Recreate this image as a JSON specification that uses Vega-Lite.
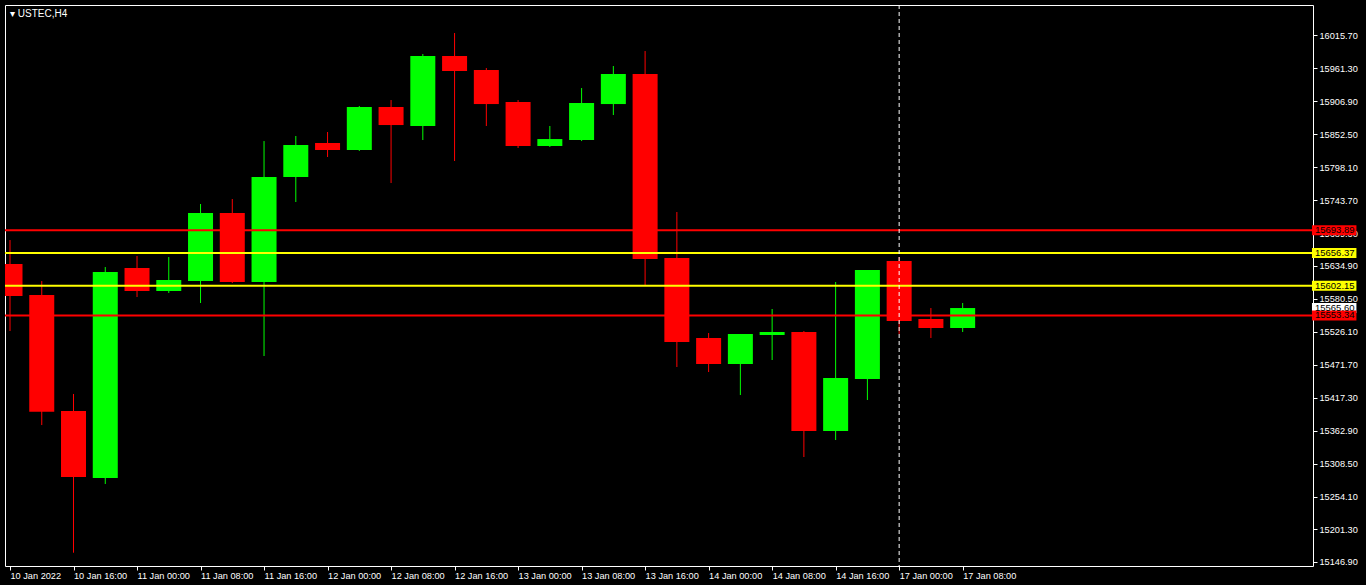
{
  "$schema": "https://vega.github.io/schema/vega-lite/v6.json",
  "width": 1308,
  "height": 561,
  "autosize": {"type": "none"},
  "padding": {"left": 5, "top": 5, "right": 53, "bottom": 19},
  "background": "#000000",
  "title": {
    "text": "▾  USTEC,H4",
    "anchor": "start",
    "frame": "group",
    "orient": "top",
    "offset": 0,
    "baseline": "top",
    "dy": 14,
    "dx": 5,
    "color": "#ffffff",
    "font": "Liberation Sans",
    "fontSize": 10,
    "fontWeight": "normal"
  },
  "config": {
    "view": {"stroke": "#ffffff", "strokeWidth": 1, "fill": "#000000"},
    "axis": {"grid": false, "domain": false, "labelOverlap": false, "labelFlush": false, "labelBound": false, "labelSeparation": 0}
  },
  "datasets": {
    "candles": [
      {"t": "10 Jan 08:00", "i": 0, "open": 15638.2, "high": 15677.7, "low": 15527.7, "close": 15585.4},
      {"t": "10 Jan 12:00", "i": 1, "open": 15587.1, "high": 15610.1, "low": 15372.7, "close": 15394.7},
      {"t": "10 Jan 16:00", "i": 2, "open": 15395.8, "high": 15423.9, "low": 15162.2, "close": 15287.0},
      {"t": "10 Jan 20:00", "i": 3, "open": 15285.4, "high": 15633.2, "low": 15275.5, "close": 15625.0},
      {"t": "11 Jan 00:00", "i": 4, "open": 15631.6, "high": 15651.4, "low": 15583.8, "close": 15593.7},
      {"t": "11 Jan 04:00", "i": 5, "open": 15593.7, "high": 15649.7, "low": 15590.4, "close": 15611.8},
      {"t": "11 Jan 08:00", "i": 6, "open": 15610.1, "high": 15737.1, "low": 15573.9, "close": 15722.3},
      {"t": "11 Jan 12:00", "i": 7, "open": 15722.3, "high": 15745.3, "low": 15606.9, "close": 15608.5},
      {"t": "11 Jan 16:00", "i": 8, "open": 15608.5, "high": 15840.9, "low": 15486.5, "close": 15781.6},
      {"t": "11 Jan 20:00", "i": 9, "open": 15781.6, "high": 15849.2, "low": 15740.4, "close": 15834.4},
      {"t": "12 Jan 00:00", "i": 10, "open": 15837.7, "high": 15855.8, "low": 15814.6, "close": 15826.1},
      {"t": "12 Jan 04:00", "i": 11, "open": 15826.1, "high": 15898.7, "low": 15824.5, "close": 15897.0},
      {"t": "12 Jan 08:00", "i": 12, "open": 15897.0, "high": 15908.5, "low": 15771.7, "close": 15867.3},
      {"t": "12 Jan 12:00", "i": 13, "open": 15865.7, "high": 15984.4, "low": 15842.6, "close": 15981.1},
      {"t": "12 Jan 16:00", "i": 14, "open": 15981.1, "high": 16019.0, "low": 15808.0, "close": 15956.4},
      {"t": "12 Jan 20:00", "i": 15, "open": 15958.0, "high": 15961.3, "low": 15865.7, "close": 15901.9},
      {"t": "13 Jan 00:00", "i": 16, "open": 15905.2, "high": 15908.5, "low": 15829.4, "close": 15832.7},
      {"t": "13 Jan 04:00", "i": 17, "open": 15832.7, "high": 15865.7, "low": 15831.1, "close": 15844.2},
      {"t": "13 Jan 08:00", "i": 18, "open": 15842.6, "high": 15928.3, "low": 15840.9, "close": 15903.6},
      {"t": "13 Jan 12:00", "i": 19, "open": 15901.9, "high": 15964.6, "low": 15883.8, "close": 15951.4},
      {"t": "13 Jan 16:00", "i": 20, "open": 15951.4, "high": 15989.3, "low": 15603.5, "close": 15646.4},
      {"t": "13 Jan 20:00", "i": 21, "open": 15648.1, "high": 15723.9, "low": 15468.4, "close": 15509.6},
      {"t": "14 Jan 00:00", "i": 22, "open": 15516.2, "high": 15524.4, "low": 15460.1, "close": 15473.3},
      {"t": "14 Jan 04:00", "i": 23, "open": 15473.3, "high": 15522.8, "low": 15422.2, "close": 15522.8},
      {"t": "14 Jan 08:00", "i": 24, "open": 15521.1, "high": 15564.0, "low": 15479.9, "close": 15526.1},
      {"t": "14 Jan 12:00", "i": 25, "open": 15526.1, "high": 15527.7, "low": 15320.0, "close": 15362.9},
      {"t": "14 Jan 16:00", "i": 26, "open": 15362.9, "high": 15608.5, "low": 15348.0, "close": 15450.2},
      {"t": "14 Jan 20:00", "i": 27, "open": 15448.6, "high": 15628.3, "low": 15414.0, "close": 15628.3},
      {"t": "17 Jan 00:00", "i": 28, "open": 15643.1, "high": 15649.7, "low": 15522.8, "close": 15544.2},
      {"t": "17 Jan 04:00", "i": 29, "open": 15547.5, "high": 15565.6, "low": 15516.2, "close": 15532.7},
      {"t": "17 Jan 08:00", "i": 30, "open": 15532.7, "high": 15573.9, "low": 15526.1, "close": 15565.6}
    ],
    "levels": [
      {"price": 15693.89, "kind": "strong"},
      {"price": 15656.37, "kind": "weak"},
      {"price": 15602.15, "kind": "weak"},
      {"price": 15553.34, "kind": "strong"}
    ],
    "tags": [
      {"price": 15693.89, "kind": "strong"},
      {"price": 15656.37, "kind": "weak"},
      {"price": 15602.15, "kind": "weak"},
      {"price": 15565.60, "kind": "bid"},
      {"price": 15553.34, "kind": "strong"}
    ],
    "separator": [
      {"i": 28, "t": "17 Jan 00:00"}
    ]
  },
  "layer": [
    {
      "data": {"name": "candles"},
      "mark": {"type": "rule", "strokeWidth": 1, "clip": true},
      "encoding": {
        "x": {
          "field": "i",
          "type": "quantitative",
          "scale": {"domain": [0, 40.875], "nice": false, "zero": false},
          "axis": {
            "orient": "bottom",
            "title": null,
            "values": [0, 2, 4, 6, 8, 10, 12, 14, 16, 18, 20, 22, 24, 26, 28, 30],
            "tickCount": 40,
            "labelExpr": "['10 Jan 2022','10 Jan 16:00','11 Jan 00:00','11 Jan 08:00','11 Jan 16:00','12 Jan 00:00','12 Jan 08:00','12 Jan 16:00','13 Jan 00:00','13 Jan 08:00','13 Jan 16:00','14 Jan 00:00','14 Jan 08:00','14 Jan 16:00','17 Jan 00:00','17 Jan 08:00'][round(datum.value/2)]",
            "labelAlign": "left",
            "labelBaseline": "top",
            "labelPadding": 1,
            "labelColor": "#ffffff",
            "labelFont": "Liberation Sans",
            "labelFontSize": 9.2,
            "labelOverlap": false,
            "labelFlush": false,
            "labelBound": false,
            "tickColor": "#ffffff",
            "tickSize": 4,
            "tickWidth": 1
          }
        },
        "y": {
          "field": "low",
          "type": "quantitative",
          "scale": {"domain": [15140.3, 16065.2], "nice": false, "zero": false},
          "axis": {
            "orient": "right",
            "title": null,
            "values": [16015.7, 15961.3, 15906.9, 15852.5, 15798.1, 15743.7, 15689.3, 15634.9, 15580.5, 15526.1, 15471.7, 15417.3, 15362.9, 15308.5, 15254.1, 15201.3, 15146.9],
            "tickCount": 40,
            "format": ".2f",
            "labelAlign": "left",
            "labelBaseline": "middle",
            "labelPadding": 2,
            "labelColor": "#ffffff",
            "labelFont": "Liberation Sans",
            "labelFontSize": 9.2,
            "labelOverlap": false,
            "labelFlush": false,
            "labelBound": false,
            "labelSeparation": 0,
            "tickColor": "#ffffff",
            "tickSize": 4,
            "tickWidth": 1
          }
        },
        "y2": {"field": "high"},
        "color": {"condition": {"test": "datum.close > datum.open", "value": "#00ff00"}, "value": "#ff0000"}
      }
    },
    {
      "data": {"name": "candles"},
      "mark": {"type": "bar", "width": 25, "clip": true},
      "encoding": {
        "x": {"field": "i", "type": "quantitative", "axis": {"orient": "bottom", "title": null}},
        "y": {"field": "open", "type": "quantitative", "axis": {"orient": "right", "title": null, "labelOverlap": false}},
        "y2": {"field": "close"},
        "color": {"condition": {"test": "datum.close > datum.open", "value": "#00ff00"}, "value": "#ff0000"}
      }
    },
    {
      "data": {"name": "levels"},
      "mark": {"type": "rule", "strokeWidth": 2, "clip": true},
      "encoding": {
        "y": {"field": "price", "type": "quantitative", "axis": {"orient": "right", "title": null, "labelOverlap": false}},
        "color": {
          "field": "kind",
          "type": "nominal",
          "scale": {"domain": ["strong", "weak", "bid"], "range": ["#ff0000", "#ffff00", "#ffffff"]},
          "legend": null
        }
      }
    },
    {
      "data": {"name": "separator"},
      "mark": {"type": "rule", "strokeWidth": 1, "strokeDash": [4, 3], "color": "#ffffff", "clip": true},
      "encoding": {
        "x": {"field": "i", "type": "quantitative", "axis": {"orient": "bottom", "title": null}}
      }
    },
    {
      "data": {"name": "tags"},
      "mark": {"type": "rect", "yOffset": -5, "y2Offset": 5},
      "encoding": {
        "x": {"datum": 41.0, "type": "quantitative", "axis": {"orient": "bottom", "title": null}},
        "x2": {"datum": 42.4},
        "y": {"field": "price", "type": "quantitative", "axis": {"orient": "right", "title": null, "labelOverlap": false}},
        "y2": {"field": "price"},
        "color": {
          "field": "kind",
          "type": "nominal",
          "scale": {"domain": ["strong", "weak", "bid"], "range": ["#ff0000", "#ffff00", "#ffffff"]},
          "legend": null
        }
      }
    },
    {
      "data": {"name": "tags"},
      "mark": {"type": "text", "align": "left", "baseline": "middle", "font": "Liberation Sans", "fontSize": 9.5, "color": "#000000", "dx": 3},
      "encoding": {
        "x": {"datum": 41.0, "type": "quantitative", "axis": {"orient": "bottom", "title": null}},
        "y": {"field": "price", "type": "quantitative", "axis": {"orient": "right", "title": null, "labelOverlap": false}},
        "text": {"field": "price", "type": "quantitative", "format": ".2f"}
      }
    }
  ]
}
